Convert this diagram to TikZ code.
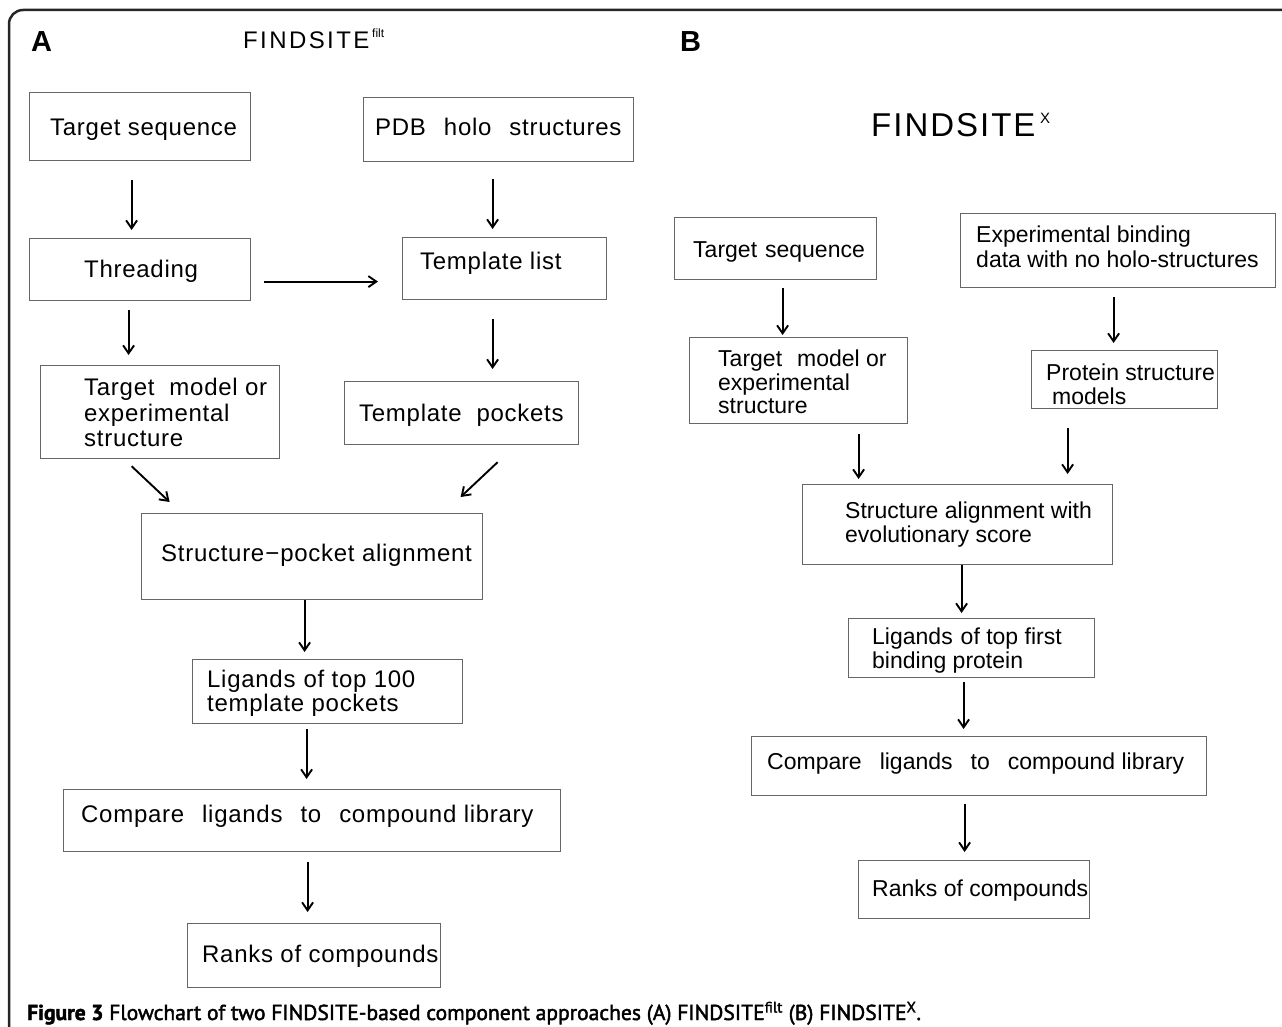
\documentclass[tikz,border=0pt]{standalone}
\usepackage{fontspec}
\setmainfont{Liberation Sans}
\newfontfamily\fa[LetterSpace=3]{Liberation Sans}
\newfontfamily\fb{Liberation Sans}
\newfontfamily\ftA[LetterSpace=10]{Liberation Sans}
\newfontfamily\ftB[LetterSpace=6]{Liberation Sans}
\newfontfamily\fc[FakeBold=2]{PT Sans}
\usetikzlibrary{arrows.meta}
\tikzset{
  box/.style={draw=black!60, line width=1.2pt, rectangle, inner sep=0pt, anchor=north west},
  ta/.style={anchor=base west, inner sep=0pt, font=\fa\fontsize{24}{28}\selectfont},
  tb/.style={anchor=base west, inner sep=0pt, font=\fb\fontsize{23}{27}\selectfont},
  arr/.style={-{Straight Barb[length=8pt,width=11pt]}, line width=1.9pt},
}
\newcommand{\gp}[1]{\hspace{#1pt}}
\begin{document}
\begin{tikzpicture}[x=1pt,y=-1pt]
\useasboundingbox (0,0) rectangle (1282,1027);
% frame
\draw[line width=2.5pt, black!85, rounded corners=14pt] (9,1035) -- (9,10) -- (1290,10);
% panel labels and titles
\node[anchor=base west, inner sep=0pt, font=\fb\bfseries\fontsize{29}{32}\selectfont] (labA) at (31,52) {A};
\node[anchor=base west, inner sep=0pt, font=\fb\bfseries\fontsize{29}{32}\selectfont] (labB) at (680,52) {B};
\node[anchor=base west, inner sep=0pt, font=\ftA\fontsize{24}{28}\selectfont] (titA) at (243,49) {FINDSITE};
\node[anchor=base west, inner sep=0pt, font=\fb\fontsize{12}{13}\selectfont] (supA) at (372,38) {filt};
\node[anchor=base west, inner sep=0pt, font=\ftB\fontsize{33}{36}\selectfont] (titB) at (871,137) {FINDSITE};
\node[anchor=base west, inner sep=0pt, font=\fb\fontsize{15}{16}\selectfont] (supB) at (1040,124) {X};

% ---------- Panel A boxes ----------
\node[box, minimum width=221pt, minimum height=68pt] (ts) at (29,92) {};
\node[box, minimum width=270pt, minimum height=64pt] (pdb) at (363,97) {};
\node[box, minimum width=221pt, minimum height=62pt] (thr) at (29,238) {};
\node[box, minimum width=204pt, minimum height=62pt] (tl) at (402,237) {};
\node[box, minimum width=239pt, minimum height=93pt] (tm) at (40,365) {};
\node[box, minimum width=234pt, minimum height=63pt] (tp) at (344,381) {};
\node[box, minimum width=341pt, minimum height=86pt] (sp) at (141,513) {};
\node[box, minimum width=270pt, minimum height=64pt] (lig) at (192,659) {};
\node[box, minimum width=497pt, minimum height=62pt] (cmp) at (63,789) {};
\node[box, minimum width=253pt, minimum height=64pt] (rk) at (187,923) {};

% ---------- Panel A texts ----------
\node[ta] (tsT) at (50,136) {Target sequence};
\node[ta] (pdbT) at (375,136) {PDB\gp{18}holo\gp{18}structures};
\node[ta] (thrT) at (84,277) {Threading};
\node[ta] (tlT) at (420,269) {Template list};
\node[ta] (tmT1) at (84,395) {Target\gp{15}model or};
\node[ta] (tmT2) at (84,421) {experimental};
\node[ta] (tmT3) at (84,446) {structure};
\node[ta] (tpT) at (359,421) {Template\gp{15}pockets};
\node[ta] (spT) at (161,561) {Structure{\kern1pt}−{\kern1pt}pocket alignment};
\node[ta] (ligT1) at (207,687) {Ligands\gp{8}of top 100};
\node[ta] (ligT2) at (207,711) {template pockets};
\node[ta] (cmpT) at (81,822) {Compare\gp{18}ligands\gp{18}to\gp{18}compound library};
\node[ta] (rkT) at (202,962) {Ranks of compounds};

% ---------- Panel A arrows ----------
\draw[arr] ([xshift=-8.5pt,yshift=-19pt]ts.south) -- ([xshift=-8.5pt,yshift=8pt]thr.north);
\draw[arr] ([xshift=-6pt,yshift=-17pt]pdb.south) -- ([xshift=-12pt,yshift=8pt]tl.north);
\draw[arr] ([xshift=13pt,yshift=-12pt]thr.east) -- ([xshift=-24pt,yshift=-13pt]tl.west);
\draw[arr] ([xshift=-11.5pt,yshift=-9pt]thr.south) -- ([xshift=-31.5pt,yshift=10pt]tm.north);
\draw[arr] ([xshift=-12pt,yshift=-19pt]tl.south) -- ([xshift=31pt,yshift=12pt]tp.north);
\draw[arr] ([xshift=-28.5pt,yshift=-7pt]tm.south) -- ([xshift=-142.5pt,yshift=11pt]sp.north);
\draw[arr] ([xshift=36pt,yshift=-17pt]tp.south) -- ([xshift=148.5pt,yshift=16pt]sp.north);
\draw[arr] ([xshift=-7.5pt]sp.south) -- ([xshift=-23pt,yshift=7pt]lig.north);
\draw[arr] ([xshift=-21pt,yshift=-5pt]lig.south) -- ([xshift=-5.5pt,yshift=10pt]cmp.north);
\draw[arr] ([xshift=-4.5pt,yshift=-10pt]cmp.south) -- ([xshift=-6.5pt,yshift=11pt]rk.north);

% ---------- Panel B boxes ----------
\node[box, minimum width=202pt, minimum height=62pt] (tsb) at (674,217) {};
\node[box, minimum width=315pt, minimum height=74pt] (eb) at (960,213) {};
\node[box, minimum width=218pt, minimum height=86pt] (tmb) at (689,337) {};
\node[box, minimum width=186pt, minimum height=58pt] (psm) at (1031,350) {};
\node[box, minimum width=310pt, minimum height=80pt] (sa) at (802,484) {};
\node[box, minimum width=246pt, minimum height=59pt] (ligb) at (848,618) {};
\node[box, minimum width=455pt, minimum height=59pt] (cmpb) at (751,736) {};
\node[box, minimum width=231pt, minimum height=58pt] (rkb) at (858,860) {};

% ---------- Panel B texts ----------
\node[tb] (tsbT) at (693,257) {Target\gp{8}sequence};
\node[tb] (ebT1) at (976,242) {Experimental binding};
\node[tb] (ebT2) at (976,267) {data with no holo-structures};
\node[tb] (tmbT1) at (718,366) {Target\gp{15}model or};
\node[tb] (tmbT2) at (718,390) {experimental};
\node[tb] (tmbT3) at (718,413) {structure};
\node[tb] (psmT1) at (1046,380) {Protein structure};
\node[tb] (psmT2) at (1052,404) {models};
\node[tb] (saT1) at (845,518) {Structure alignment with};
\node[tb] (saT2) at (845,542) {evolutionary score};
\node[tb] (ligbT1) at (872,644) {Ligands\gp{8}of top first};
\node[tb] (ligbT2) at (872,668) {binding protein};
\node[tb] (cmpbT) at (767,769) {Compare\gp{18}ligands\gp{18}to\gp{18}compound library};
\node[tb] (rkbT) at (872,896) {Ranks of compounds};

% ---------- Panel B arrows ----------
\draw[arr] ([xshift=7pt,yshift=-8pt]tsb.south) -- ([xshift=-16pt,yshift=2pt]tmb.north);
\draw[arr] ([xshift=-4.5pt,yshift=-9pt]eb.south) -- ([xshift=-11pt,yshift=7pt]psm.north);
\draw[arr] ([xshift=60pt,yshift=-10pt]tmb.south) -- ([xshift=-99pt,yshift=5pt]sa.north);
\draw[arr] ([xshift=-57pt,yshift=-19pt]psm.south) -- ([xshift=110pt,yshift=10pt]sa.north);
\draw[arr] ([xshift=4pt]sa.south) -- ([xshift=-10pt,yshift=5pt]ligb.north);
\draw[arr] ([xshift=-8pt,yshift=-4pt]ligb.south) -- ([xshift=-15.5pt,yshift=7pt]cmpb.north);
\draw[arr] ([xshift=-14.5pt,yshift=-8pt]cmpb.south) -- ([xshift=-9.5pt,yshift=8pt]rkb.north);

% ---------- caption ----------
\node[anchor=base west, inner sep=0pt, font=\fc\fontsize{21.6}{24}\selectfont] (cap) at (27,1020)
  {\textbf{Figure 3} Flowchart of two FINDSITE-based component approaches (A) FINDSITE\textsuperscript{filt} (B) FINDSITE\textsuperscript{X}.};
\end{tikzpicture}
\end{document}
